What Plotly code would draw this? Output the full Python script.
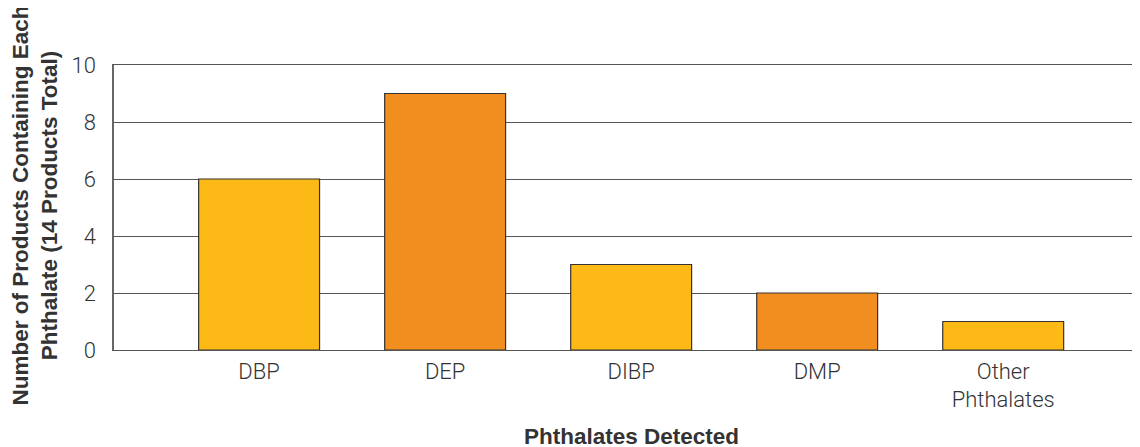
import plotly.graph_objects as go

categories = ["DBP", "DEP", "DIBP", "DMP", "Other<br>Phthalates"]
values = [6, 9, 3, 2, 1]
colors = ["#FDB915", "#F28E20", "#FDB915", "#F28E20", "#FDB915"]
y_ticks = [0, 2, 4, 6, 8, 10]

fig = go.Figure()
fig.add_trace(go.Bar(
    x=list(range(len(categories))), y=values,
    marker=dict(color=colors, line=dict(color="#333333", width=1.2)),
    width=0.65,
))

# page body has an 8px offset; compensate
OFF = 8
W, H = 1140 - OFF, 447 - OFF
L, R, T, B = 114 - OFF, 1, 65 - OFF, 97

fig.update_layout(
    width=W, height=H,
    margin=dict(l=L, r=R, t=T, b=B, autoexpand=False),
    plot_bgcolor="white", paper_bgcolor="white",
    showlegend=False,
    font=dict(family="Roboto", size=22, color="#333333", weight=300),
    xaxis=dict(
        tickmode="array", tickvals=list(range(len(categories))), ticktext=categories,
        range=[-0.78, 4.73], showgrid=False, zeroline=False,
        showline=True, mirror=True, linecolor="#555555", linewidth=1.3,
        ticks="", ticklabelstandoff=1,
        tickfont=dict(family="Roboto", size=22, color="#333333", weight=300),
    ),
    yaxis=dict(
        range=[0, 10], tickvals=y_ticks, showgrid=True, gridcolor="#555555", gridwidth=1.3,
        zeroline=False, showline=True, linecolor="#666666", linewidth=1.5,
        ticks="", ticklabelstandoff=12,
        tickfont=dict(family="Roboto", size=22, color="#333333", weight=300),
    ),
    annotations=[
        dict(text="Number of Products Containing Each<br>Phthalate (14 Products Total)",
             xref="paper", yref="paper", x=0, y=0.5, xshift=-80, yshift=2, textangle=-90,
             xanchor="center", yanchor="middle", showarrow=False,
             font=dict(family="Liberation Sans", size=22.5, color="#333333", weight="bold")),
        dict(text="Phthalates Detected",
             xref="paper", yref="paper", x=(631 - 114) / (1139 - 114), y=0, yshift=-86,
             xanchor="center", yanchor="middle", showarrow=False,
             font=dict(family="Liberation Sans", size=22.5, color="#333333", weight="bold")),
    ],
)

fig.write_html("out.html")
